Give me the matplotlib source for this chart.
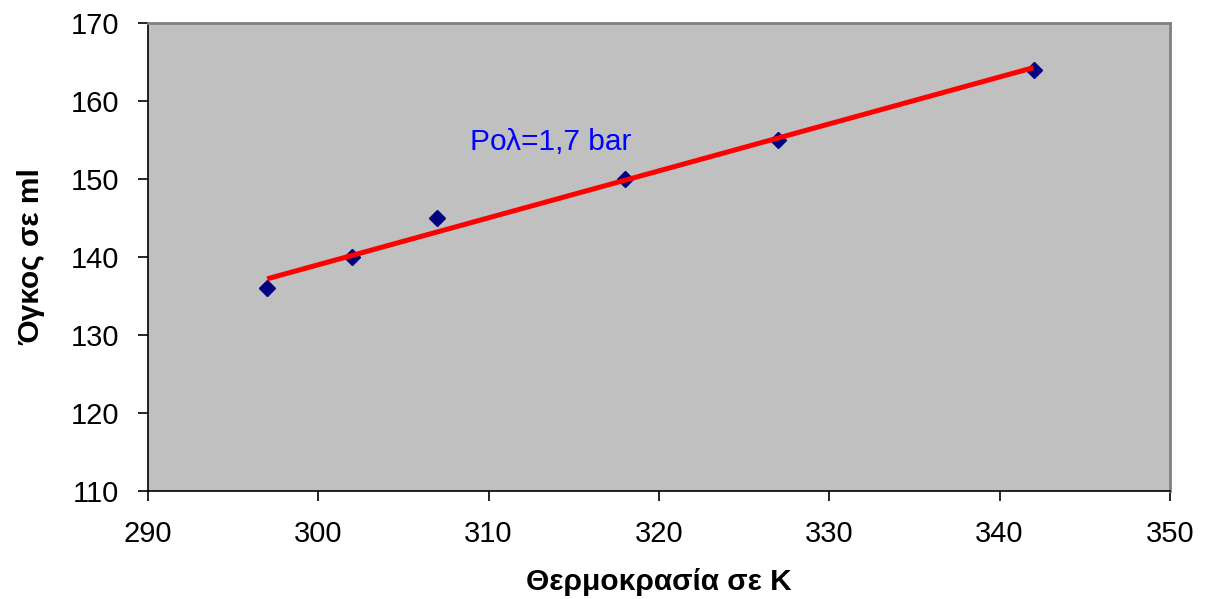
import numpy as np
import matplotlib
matplotlib.use('Agg')
import matplotlib.pyplot as plt

plt.rcParams['font.family'] = ['Liberation Sans', 'DejaVu Sans']

# data
temp_K = [297, 302, 307, 318, 327, 342]
volume_ml = [136, 140, 145, 150, 155, 164]
label_text = 'Ρολ=1,7 bar'

xticks = [290, 300, 310, 320, 330, 340, 350]
yticks = [110, 120, 130, 140, 150, 160, 170]

fig = plt.figure(figsize=(12.06, 5.99), dpi=100)
ax = fig.add_axes([0.1227, 0.1803, 0.8473, 0.7813])
ax.set_facecolor('#c0c0c0')

# linear trendline through the points
k, b = np.polyfit(temp_K, volume_ml, 1)
xs = np.array([min(temp_K), max(temp_K)])
ax.plot(xs, k * xs + b, color='#ff0000', lw=3.6, zorder=3, solid_capstyle='butt')
ax.plot(temp_K, volume_ml, linestyle='none', marker='D', ms=8,
        color='#000080', zorder=2)

ax.text(308.9, 154.7, label_text, color='#0000ff', fontsize=21.5,
        ha='left', va='center')

ax.set_xlim(290, 350)
ax.set_ylim(110, 170)
ax.set_xticks(xticks)
ax.set_yticks(yticks)
ax.tick_params(labelsize=21, length=7, width=1.2, direction='out')
ax.tick_params(axis='x', pad=14)
ax.tick_params(axis='y', pad=14)

for s in ['left', 'bottom']:
    ax.spines[s].set_color('black')
    ax.spines[s].set_linewidth(1.2)
for s in ['top', 'right']:
    ax.spines[s].set_color('#808080')
    ax.spines[s].set_linewidth(2)

ax.set_xlabel('Θερμοκρασία σε K', fontsize=21.5, fontweight='bold', labelpad=14)
ax.set_ylabel('Όγκος σε ml', fontsize=21.5, fontweight='bold', labelpad=18)

fig.savefig('out.png', dpi=100)
